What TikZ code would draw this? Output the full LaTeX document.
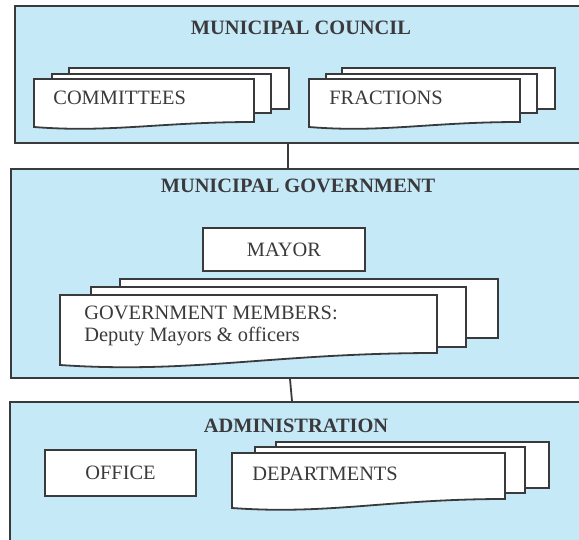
\documentclass[tikz,border=0pt]{standalone}
\usepackage{fontspec}
\setmainfont{Liberation Serif}
\usetikzlibrary{fit}

\definecolor{panelblue}{HTML}{C6E9F8}
\definecolor{inkgray}{HTML}{3A3A3C}

\tikzset{
  panel/.style={draw=inkgray, fill=panelblue, line width=0.9pt, inner sep=0pt},
  sheet/.style={draw=inkgray, fill=white, line width=0.9pt},
  box/.style={draw=inkgray, fill=white, line width=0.9pt, text=inkgray, inner sep=0pt, font=\fontsize{10.2}{12}\selectfont},
  title/.style={text=inkgray, inner sep=0pt, anchor=base, font=\fontsize{10.2}{12}\selectfont\bfseries},
  sheettext/.style={text=inkgray, inner sep=0pt, anchor=base west, font=\fontsize{10.2}{12}\selectfont},
  link/.style={draw=inkgray, line width=0.9pt}
}

\begin{document}
\begin{tikzpicture}[x=0.5pt, y=-0.5pt]
  \useasboundingbox (0,0) rectangle (579,540);
  \clip (0,0) rectangle (579,540);

  \coordinate (link1) at (288,0);
  \coordinate (link2a) at (290,0);
  \coordinate (link2b) at (292,0);

  % municipal council
  \node[panel, fit={(15,6) (620,143)}] (council) {};
  \node[title] (council title) at (301,35) {MUNICIPAL COUNCIL};

  \draw[sheet] (69,68) rectangle (289,109);
  \draw[sheet] (52,74) rectangle (271,113);
  \draw[sheet] (34,79) -- (254,79) -- (254,122) .. controls (160,122) and (110,133) .. (34,127) -- cycle;
  \node[sheettext] (committees) at (53,105) {COMMITTEES};

  \draw[sheet] (342,68) rectangle (555,109);
  \draw[sheet] (326,74) rectangle (537,113);
  \draw[sheet] (309,79) -- (520,79) -- (520,122) .. controls (429,122) and (383,133) .. (309,127) -- cycle;
  \node[sheettext] (fractions) at (329,105) {FRACTIONS};

  % municipal government
  \node[panel, fit={(11,169) (620,378)}] (government) {};
  \node[title] (government title) at (298,192) {MUNICIPAL GOVERNMENT};

  \node[box, minimum width=81pt, minimum height=21.5pt] (mayor) at (284,249.5) {MAYOR};

  \draw[sheet] (120,279) rectangle (498,338);
  \draw[sheet] (91,287) rectangle (466,347);
  \draw[sheet] (60,295) -- (437,295) -- (437,353) .. controls (275,353) and (192,374) .. (60,365) -- cycle;
  \node[sheettext] (members) at (84,320) {GOVERNMENT MEMBERS:};
  \node[sheettext] (deputies) at (84,342) {Deputy Mayors \& officers};

  % administration
  \node[panel, fit={(10,402) (620,560)}] (administration) {};
  \node[title] (administration title) at (296,432) {ADMINISTRATION};

  \node[box, minimum width=75.5pt, minimum height=23pt] (office) at (120.5,473) {OFFICE};

  \draw[sheet] (276,442) rectangle (549,488);
  \draw[sheet] (255,447) rectangle (525,493);
  \draw[sheet] (232,453) -- (505,453) -- (505,499) .. controls (388,499) and (328,515) .. (232,508) -- cycle;
  \node[sheettext] (departments) at (252,480) {DEPARTMENTS};

  \draw[link] (council.south -| link1) -- (government.north -| link1);
  \draw[link] (government.south -| link2a) -- (administration.north -| link2b);
\end{tikzpicture}
\end{document}
